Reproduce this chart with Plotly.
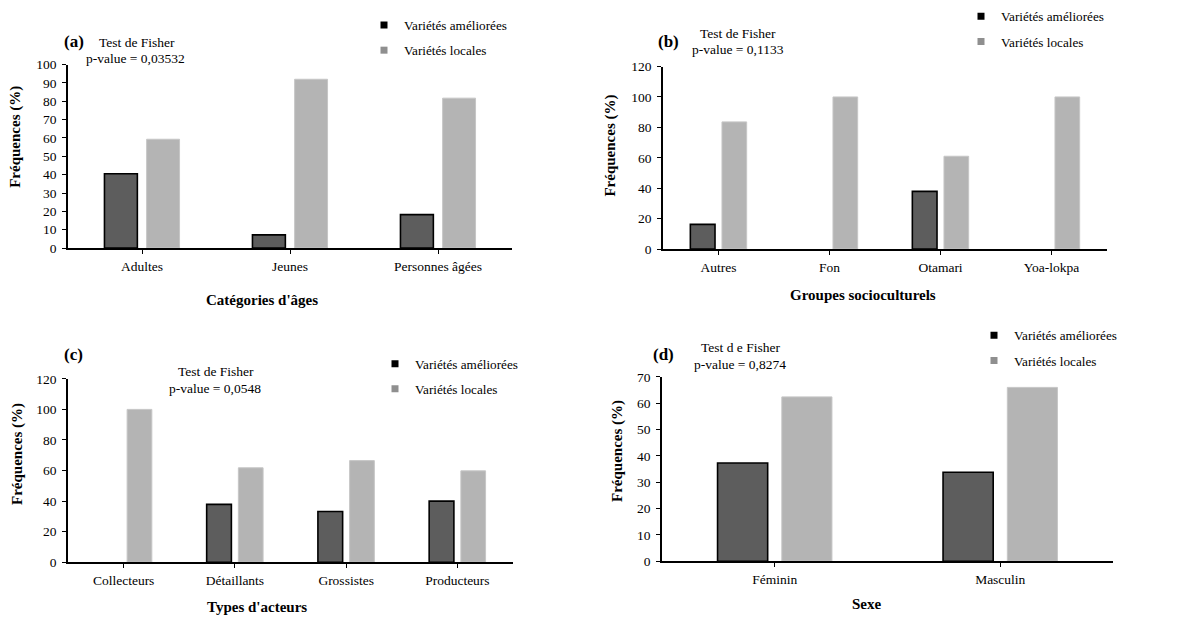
import plotly.graph_objects as go

W, H = 1193, 622

# ---------------- data ----------------
cat_a = ["Adultes", "Jeunes", "Personnes âgées"]
amel_a = [40.5, 7.2, 18.2]
loc_a = [59.3, 92.0, 81.7]

cat_b = ["Autres", "Fon", "Otamari", "Yoa-lokpa"]
amel_b = [16.2, 0, 37.9, 0]
loc_b = [83.6, 100, 61.0, 100]

cat_c = ["Collecteurs", "Détaillants", "Grossistes", "Producteurs"]
amel_c = [0, 37.9, 33.2, 40.0]
loc_c = [100, 61.8, 66.5, 59.8]

cat_d = ["Féminin", "Masculin"]
amel_d = [37.3, 33.8]
loc_d = [62.4, 66.0]

yticks_a = [0, 10, 20, 30, 40, 50, 60, 70, 80, 90, 100]
yticks_b = [0, 20, 40, 60, 80, 100, 120]
yticks_c = [0, 20, 40, 60, 80, 100, 120]
yticks_d = [0, 10, 20, 30, 40, 50, 60, 70]

series_names = ["Variétés améliorées", "Variétés locales"]
panel_labels = ["(a)", "(b)", "(c)", "(d)"]
fisher_titles = ["Test de Fisher", "Test de Fisher", "Test de Fisher", "Test d e Fisher"]
pvalues = ["p-value = 0,03532", "p-value = 0,1133", "p-value = 0,0548", "p-value = 0,8274"]
xtitles = ["Catégories d'âges", "Groupes socioculturels", "Types d'acteurs", "Sexe"]
ytitle = "Fréquences (%)"

# ---------------- style / layout ----------------
FONT = "'Liberation Serif', 'Times New Roman', Times, serif"
DARK = "#5d5d5d"
LIGHT = "#b4b4b4"


def px(x):
    return x / W


def py(y):
    return 1 - y / H


panels = [
    dict(cats=cat_a, a=amel_a, l=loc_a, ticks=yticks_a, rng=[0, 100],
         dom_x=(68, 512), dom_y=(247, 59),
         lab=(62, 35), t1=(137, 36), t2=(135, 53), leg=(401, 25),
         yt=(16, 133), xt=(262, 300)),
    dict(cats=cat_b, a=amel_b, l=loc_b, ticks=yticks_b, rng=[0, 120],
         dom_x=(663, 1107), dom_y=(248, 61),
         lab=(656, 35), t1=(738, 27), t2=(738, 44), leg=(998, 16),
         yt=(611, 142), xt=(863, 295)),
    dict(cats=cat_c, a=amel_c, l=loc_c, ticks=yticks_c, rng=[0, 120],
         dom_x=(68, 513), dom_y=(569, 381),
         lab=(62, 356), t1=(216, 373), t2=(215, 391), leg=(412, 372),
         yt=(18, 458), xt=(257, 615)),
    dict(cats=cat_d, a=amel_d, l=loc_d, ticks=yticks_d, rng=[0, 70],
         dom_x=(662, 1113), dom_y=(568, 379),
         lab=(651, 356), t1=(740, 349), t2=(740, 366), leg=(1011, 343),
         yt=(617, 455), xt=(867, 612)),
]

fig = go.Figure()
annotations = []
layout = dict(
    width=W, height=H,
    margin=dict(l=0, r=0, t=0, b=0),
    paper_bgcolor="white", plot_bgcolor="white",
    bargap=0.43, bargroupgap=0.22, barmode="group",
    font=dict(family=FONT, size=13, color="black"),
    showlegend=True,
)

for i, p in enumerate(panels):
    n = "" if i == 0 else str(i + 1)
    xa = "x" + n
    ya = "y" + n
    legname = "legend" + n
    fig.add_trace(go.Bar(
        x=p["cats"], y=p["a"], name=series_names[0], xaxis=xa, yaxis=ya,
        marker=dict(color=DARK, line=dict(color="black",
                    width=[1.6 if v > 0 else 0 for v in p["a"]])),
        showlegend=False))
    fig.add_trace(go.Bar(
        x=p["cats"], y=p["l"], name=series_names[1], xaxis=xa, yaxis=ya,
        marker=dict(color=LIGHT, line=dict(color="#c6c6c6",
                    width=[1 if v > 0 else 0 for v in p["l"]])),
        showlegend=False))
    # legend entries
    for k, col in enumerate(["#000000", "#8f8f8f"]):
        fig.add_trace(go.Scatter(
            x=[None], y=[None], mode="markers", name=series_names[k],
            xaxis=xa, yaxis=ya, legend=legname, legendgroup=f"g{i}{k}",
            marker=dict(symbol="square", size=7, color=col)))

    layout["xaxis" + n] = dict(
        domain=[px(p["dom_x"][0]), px(p["dom_x"][1])], anchor=ya,
        type="category", categoryorder="array", categoryarray=p["cats"],
        showline=True, linecolor="black", linewidth=1.5,
        ticks="outside", ticklen=4, tickwidth=1, tickcolor="black",
        showgrid=False, zeroline=False, ticklabelstandoff=1,
        tickfont=dict(family=FONT, size=13.5, color="black"), fixedrange=True)
    layout["yaxis" + n] = dict(
        domain=[py(p["dom_y"][0]), py(p["dom_y"][1])], anchor=xa,
        range=p["rng"], tickvals=p["ticks"],
        showline=True, linecolor="black", linewidth=1.5,
        ticks="outside", ticklen=4, tickwidth=1, tickcolor="black",
        showgrid=False, zeroline=False, ticklabelstandoff=3,
        tickfont=dict(family=FONT, size=13.5, color="black"), fixedrange=True)
    layout[legname] = dict(
        x=px(p["leg"][0] - 37), y=py(p["leg"][1] - 22), xanchor="left", yanchor="top",
        bgcolor="rgba(0,0,0,0)", borderwidth=0, tracegroupgap=5,
        font=dict(family=FONT, size=13.2, color="black"), itemwidth=30)

    annotations += [
        dict(text="<b>" + panel_labels[i] + "</b>", x=px(p["lab"][0]), y=py(p["lab"][1]),
             xanchor="left", yanchor="middle", font=dict(size=17)),
        dict(text=fisher_titles[i], x=px(p["t1"][0]), y=py(p["t1"][1]),
             xanchor="center", yanchor="middle", font=dict(size=13.5)),
        dict(text=pvalues[i], x=px(p["t2"][0]), y=py(p["t2"][1]),
             xanchor="center", yanchor="middle", font=dict(size=13.5)),
        dict(text="<b>" + ytitle + "</b>", x=px(p["yt"][0]), y=py(p["yt"][1]),
             xanchor="center", yanchor="middle", textangle=-90, font=dict(size=15)),
        dict(text="<b>" + xtitles[i] + "</b>", x=px(p["xt"][0]), y=py(p["xt"][1]),
             xanchor="center", yanchor="middle", font=dict(size=15)),
    ]

for a in annotations:
    a.update(xref="paper", yref="paper", showarrow=False)
layout["annotations"] = annotations
fig.update_layout(**layout)
fig.write_html("out.html")
